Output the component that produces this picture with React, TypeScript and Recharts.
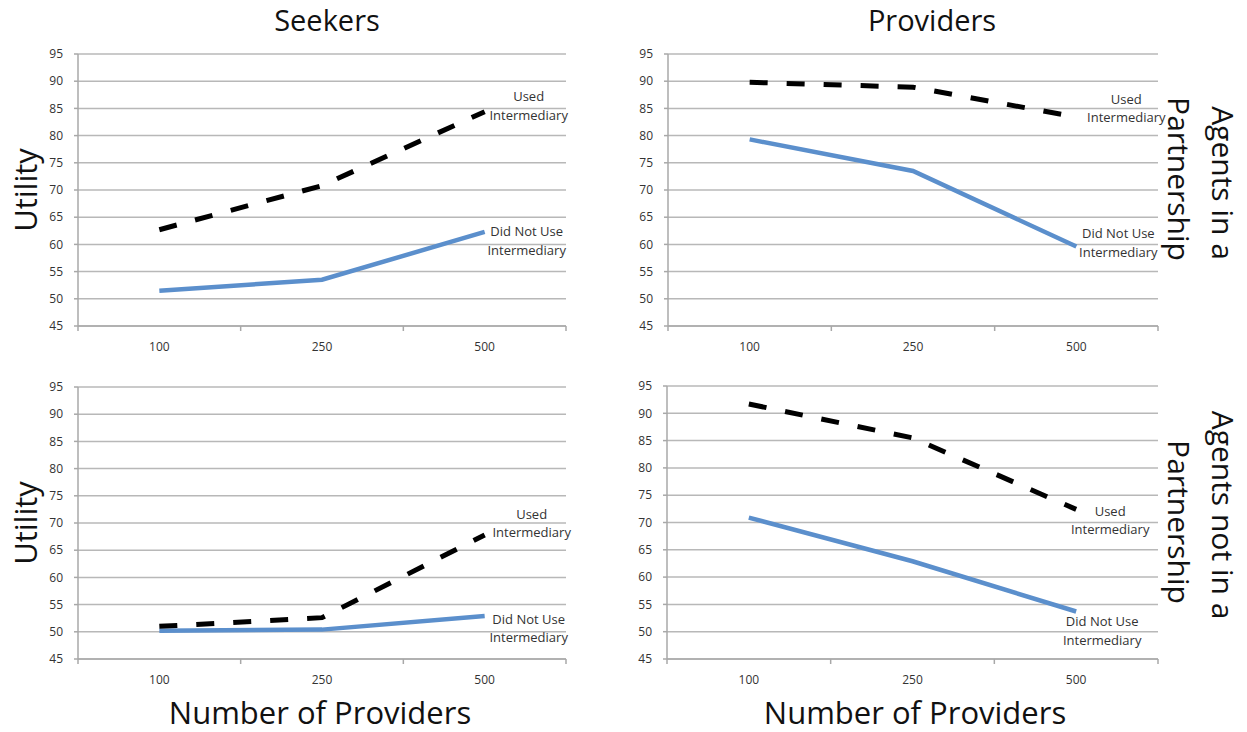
import React from "react";
import { LineChart, Line, XAxis, YAxis, CartesianGrid, LabelList } from "recharts";

const categories = ["100", "250", "500"];
const yTicks = [45, 50, 55, 60, 65, 70, 75, 80, 85, 90, 95];

const seekersPartnerUsed = [62.7, 70.8, 84.4];
const seekersPartnerDid = [51.5, 53.5, 62.3];
const providersPartnerUsed = [89.8, 88.9, 83.4];
const providersPartnerDid = [79.3, 73.5, 59.6];
const seekersNoPartnerUsed = [51.0, 52.6, 67.8];
const seekersNoPartnerDid = [50.2, 50.4, 52.9];
const providersNoPartnerUsed = [91.7, 85.5, 72.4];
const providersNoPartnerDid = [70.9, 62.9, 53.7];

const usedLabel = ["Used", "Intermediary"];
const didLabel = ["Did Not Use", "Intermediary"];

const FONT = "'Open Sans', sans-serif";
const GRID = "#b8b8b8";
const AXIS = "#a8a8a8";
const BLUE = "#5b8fcc";

function buildRows(used: number[], did: number[]) {
  return categories.map((c, i) => ({ n: c, used: used[i], did: did[i] }));
}

type PanelProps = {
  left: number;
  top: number;
  width: number;
  height: number;
  margin: { top: number; right: number; bottom: number; left: number };
  used: number[];
  did: number[];
  usedOff: [number, number];
  didOff: [number, number];
};

function makeLabel(lines: string[], off: [number, number]) {
  return (props: any) => {
    const { x, y, index } = props;
    if (index !== categories.length - 1) return null;
    return (
      <text
        x={x + off[0]}
        textAnchor="middle"
        fontSize={13}
        fill="#333"
        fontFamily={FONT}
      >
        <tspan x={x + off[0]} y={y + off[1]} dy="0.35em">
          {lines[0]}
        </tspan>
        <tspan x={x + off[0]} y={y + off[1] + 18.5} dy="0.35em">
          {lines[1]}
        </tspan>
      </text>
    );
  };
}

function Panel(p: PanelProps) {
  const data = buildRows(p.used, p.did);
  const plotW = p.width - p.margin.left - p.margin.right - 40;
  const band = plotW / categories.length;
  const XTick = (props: any) => {
    const { x, y, payload, index } = props;
    return (
      <g>
        <line x1={x - band / 2} x2={x - band / 2} y1={y} y2={y + 5} stroke={AXIS} strokeWidth={1.5} />
        {index === categories.length - 1 && (
          <line x1={x + band / 2} x2={x + band / 2} y1={y} y2={y + 5} stroke={AXIS} strokeWidth={1.5} />
        )}
        <text x={x} y={y + 21} dy="0.35em" textAnchor="middle" fontSize={12} fill="#333" fontFamily={FONT}>
          {payload.value}
        </text>
      </g>
    );
  };
  return (
    <div style={{ position: "absolute", left: p.left, top: p.top }}>
      <LineChart width={p.width} height={p.height} data={data} margin={p.margin} style={{ overflow: "visible" }}>
        <CartesianGrid horizontal={true} vertical={false} stroke={GRID} strokeWidth={1.5} />
        <XAxis
          dataKey="n"
          type="category"
          height={30}
          interval={0}
          padding={{ left: band / 2, right: band / 2 }}
          tickLine={false}
          tickSize={0}
          tickMargin={0}
          axisLine={{ stroke: AXIS, strokeWidth: 1.5 }}
          tick={<XTick />}
        />
        <YAxis
          type="number"
          width={40}
          domain={[45, 95]}
          ticks={yTicks}
          interval={0}
          tickSize={4}
          tickMargin={11}
          axisLine={{ stroke: AXIS, strokeWidth: 1.5 }}
          tickLine={{ stroke: AXIS, strokeWidth: 1.5 }}
          tick={{ fontSize: 12, fill: "#333", fontFamily: FONT }}
        />
        <Line
          type="linear"
          dataKey="did"
          stroke={BLUE}
          strokeWidth={4.5}
          dot={false}
          isAnimationActive={false}
        >
          <LabelList dataKey="did" content={makeLabel(didLabel, p.didOff)} />
        </Line>
        <Line
          type="linear"
          dataKey="used"
          stroke="#000"
          strokeWidth={5}
          strokeDasharray="18 19"
          dot={false}
          isAnimationActive={false}
        >
          <LabelList dataKey="used" content={makeLabel(usedLabel, p.usedOff)} />
        </Line>
      </LineChart>
    </div>
  );
}

export default function App() {
  return (
    <div
      style={{
        position: "absolute",
        left: 0,
        top: 0,
        width: 1247,
        height: 732,
        background: "#fff",
        fontFamily: FONT,
        overflow: "hidden",
      }}
    >
      <Panel
        left={0}
        top={0}
        width={600}
        height={370}
        margin={{ top: 54, right: 34, bottom: 14, left: 38 }}
        used={seekersPartnerUsed}
        did={seekersPartnerDid}
        usedOff={[44, -15]}
        didOff={[42, 0]}
      />
      <Panel
        left={600}
        top={0}
        width={647}
        height={370}
        margin={{ top: 54, right: 89, bottom: 14, left: 28 }}
        used={providersPartnerUsed}
        did={providersPartnerDid}
        usedOff={[50, -18]}
        didOff={[42, -13]}
      />
      <Panel
        left={0}
        top={370}
        width={600}
        height={362}
        margin={{ top: 17, right: 34, bottom: 43, left: 38 }}
        used={seekersNoPartnerUsed}
        did={seekersNoPartnerDid}
        usedOff={[47, -21]}
        didOff={[44, 3]}
      />
      <Panel
        left={600}
        top={370}
        width={647}
        height={362}
        margin={{ top: 16, right: 89, bottom: 43, left: 27 }}
        used={providersNoPartnerUsed}
        did={providersNoPartnerDid}
        usedOff={[34, 2]}
        didOff={[26, 10]}
      />
      <svg
        width={1247}
        height={732}
        style={{ position: "absolute", left: 0, top: 0, pointerEvents: "none" }}
        fontFamily={FONT}
      >
        <text x={327} y={31} fontSize={29} textAnchor="middle" fill="#111">Seekers</text>
        <text x={932} y={31} fontSize={29} textAnchor="middle" fill="#111">Providers</text>
        <text transform="translate(37,190) rotate(-90)" fontSize={31} textAnchor="middle" fill="#111">Utility</text>
        <text transform="translate(37,523) rotate(-90)" fontSize={31} textAnchor="middle" fill="#111">Utility</text>
        <text x={320} y={724} fontSize={31} textAnchor="middle" fill="#111">Number of Providers</text>
        <text x={915} y={724} fontSize={31} textAnchor="middle" fill="#111">Number of Providers</text>
        <text transform="translate(1212,183) rotate(90)" fontSize={30} textAnchor="middle" fill="#111">Agents in a</text>
        <text transform="translate(1168,179) rotate(90)" fontSize={30} textAnchor="middle" fill="#111">Partnership</text>
        <text transform="translate(1212,515) rotate(90)" fontSize={30} textAnchor="middle" fill="#111">Agents not in a</text>
        <text transform="translate(1168,522) rotate(90)" fontSize={30} textAnchor="middle" fill="#111">Partnership</text>
      </svg>
    </div>
  );
}
